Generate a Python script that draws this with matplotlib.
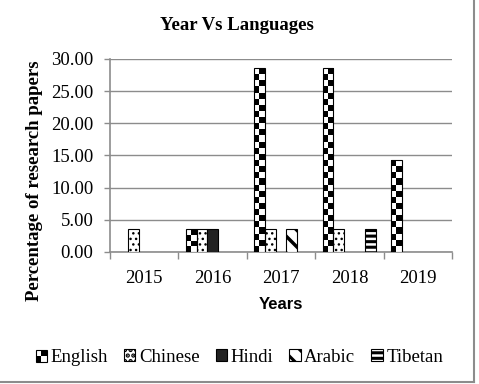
import numpy as np
import matplotlib.pyplot as plt
from matplotlib.patches import Rectangle
from matplotlib.lines import Line2D
from matplotlib.legend_handler import HandlerBase

plt.rcParams['font.family'] = ['Liberation Serif', 'DejaVu Serif']

years = ["2015", "2016", "2017", "2018", "2019"]
languages = ["English", "Chinese", "Hindi", "Arabic", "Tibetan"]
english = [0, 3.57, 28.57, 28.57, 14.29]
chinese = [3.57, 3.57, 3.57, 3.57, 0]
hindi = [0, 3.57, 0, 0, 0]
arabic = [0, 0, 3.57, 0, 0]
tibetan = [0, 0, 0, 3.57, 0]
series = [english, chinese, hindi, arabic, tibetan]

# fill style of each language: (facecolor, hatch, hatch linewidth)
styles = [None, ('white', '...', 1.0), ('#222222', '', 1.0),
          ('white', '\\\\', 2.5), ('white', '---', 2.2)]

fig = plt.figure(figsize=(4.79, 3.84), dpi=100)
ax = fig.add_axes([0.2296, 0.3438, 0.9436 - 0.2296, 0.8464 - 0.3438])

x = np.arange(len(years))
gap = 0.11
w = (1 - 2 * gap) / 5
grey = '#8c8c8c'


def checker(ax, x0, width, height):
    # checkerboard fill for the English bars
    rows = max(1, int(round(height / 0.95)))
    img = (np.indices((rows, 2)).sum(axis=0) % 2).astype(float)
    rect = ax.bar(x0, height, width, align='edge', facecolor='none',
                  edgecolor='black', linewidth=0.8, zorder=4)[0]
    im = ax.imshow(img, extent=(x0, x0 + width, 0, height), cmap='gray',
                   interpolation='nearest', aspect='auto', origin='lower', zorder=3)
    im.set_clip_path(rect)


def styled_patch(i, **kw):
    fc, hatch, hlw = styles[i]
    plt.rcParams['hatch.linewidth'] = hlw
    return Rectangle((0, 0), 1, 1, facecolor=fc, edgecolor='black',
                     hatch=hatch or None, linewidth=0.8, **kw)


for i, vals in enumerate(series):
    for j, v in enumerate(vals):
        if v <= 0:
            continue
        x0 = x[j] - 0.5 + gap + i * w
        if i == 0:
            checker(ax, x0, w, v)
        else:
            fc, hatch, hlw = styles[i]
            plt.rcParams['hatch.linewidth'] = hlw
            ax.bar(x0, v, w, align='edge', facecolor=fc, edgecolor='black',
                   hatch=hatch or None, linewidth=0.8, zorder=3)

ax.set_xlim(-0.5, len(years) - 0.5)
ax.set_ylim(0, 30)
ax.set_yticks(np.arange(0, 31, 5))
ax.set_yticklabels([f"{t:.2f}" for t in np.arange(0, 31, 5)])
ax.set_xticks(x)
ax.set_xticklabels(years)
ax.set_xticks(np.arange(-0.5, len(years), 1), minor=True)
ax.tick_params(axis='x', which='major', length=0, pad=13, labelsize=13.5)
ax.tick_params(axis='x', which='minor', length=5, color=grey, width=1)
ax.tick_params(axis='y', length=4, color=grey, width=1, pad=8, labelsize=13.5)
ax.grid(axis='y', color=grey, linewidth=1)
ax.set_axisbelow(True)
for s in ['top', 'right']:
    ax.spines[s].set_visible(False)
for s in ['left', 'bottom']:
    ax.spines[s].set_color(grey)
    ax.spines[s].set_linewidth(1.2)

ax.set_xlabel("Years", fontsize=12, fontweight='bold', family='Liberation Sans', labelpad=7)
ax.set_ylabel("Percentage of research papers", fontsize=13.5, fontweight='bold')
ax.yaxis.set_label_coords(-0.195, 0.37)
fig.text(0.495, 1 - 25 / 384, "Year Vs Languages", fontsize=13.5, fontweight='bold',
         ha='center', va='center')


class CheckerHandler(HandlerBase):
    def create_artists(self, legend, orig_handle, xd, yd, width, height, fontsize, trans):
        arts = [Rectangle((xd, yd), width, height, facecolor='white',
                          edgecolor='black', linewidth=0.8, transform=trans)]
        for (a, b) in [(0, 0), (1, 1)]:
            arts.append(Rectangle((xd + a * width / 2, yd + b * height / 2), width / 2,
                                  height / 2, facecolor='black', edgecolor='none',
                                  transform=trans))
        return arts


handles = [Rectangle((0, 0), 1, 1, facecolor='white', edgecolor='black')]
handles += [styled_patch(i) for i in range(1, 5)]
fig.legend(handles, languages, loc='center', bbox_to_anchor=(0.5, 1 - 357 / 384),
           ncol=5, frameon=False, fontsize=13.5, handlelength=0.6, handleheight=0.6,
           handletextpad=0.2, columnspacing=0.85,
           handler_map={handles[0]: CheckerHandler()})

fig.add_artist(Line2D([0.9896, 0.9896], [0.0065, 1], transform=fig.transFigure,
                      color=grey, linewidth=1.5))
fig.add_artist(Line2D([0, 0.9896], [0.0065, 0.0065], transform=fig.transFigure,
                      color=grey, linewidth=1.5))

fig.savefig("out.png", dpi=100)
